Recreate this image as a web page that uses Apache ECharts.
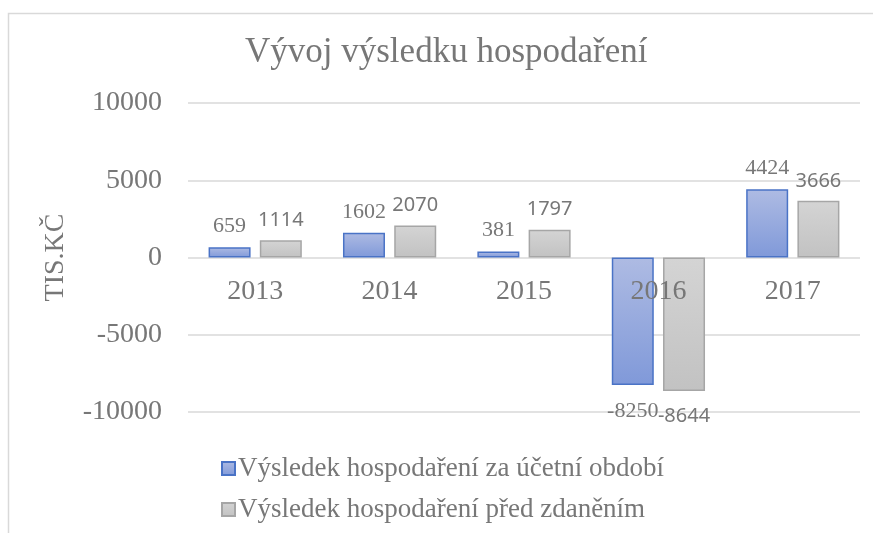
<!DOCTYPE html>
<html>
<head>
<meta charset="utf-8">
<script src="https://cdn.jsdelivr.net/npm/echarts@6/dist/echarts.min.js"></script>
<style>
  html, body { margin: 0; padding: 0; background: #fff; }
  #chart { width: 873px; height: 533px; }
</style>
</head>
<body>
<div id="chart"></div>
<script>
var years = ['2013', '2014', '2015', '2016', '2017'];
var zaObdobi = [659, 1602, 381, -8250, 4424];
var predZdanenim = [1114, 2070, 1797, -8644, 3666];
var seriesNames = ['Výsledek hospodaření za účetní období', 'Výsledek hospodaření před zdaněním'];

var serif = 'Liberation Serif';
var sans = 'Noto Sans';
var txt = '#777777';

var chart = echarts.init(document.getElementById('chart'));

function labelFor(font, size, dist) {
    return {
        show: true,
        position: 'top',
        distance: dist,
        fontFamily: font,
        fontSize: size,
        color: txt,
        formatter: function (p) { return String(p.value); }
    };
}

function negLabel(font, size, dist) {
    // labels under the bars that go below zero
    return { position: 'bottom', distance: dist, fontFamily: font, fontSize: size, color: txt };
}

var option = {
    backgroundColor: '#fff',
    animation: false,
    textStyle: { fontFamily: serif },
    title: {
        text: 'Vývoj výsledku hospodaření',
        left: 240,
        top: 30,
        textStyle: { fontFamily: serif, fontSize: 35, fontWeight: 'normal', color: '#777777' }
    },
    graphic: [{
        type: 'rect',
        shape: { x: 8.5, y: 13.5, width: 900, height: 600 },
        style: { fill: 'none', stroke: '#d9d9d9', lineWidth: 1.5 },
        silent: true
    }],
    grid: { left: 188, right: 13, top: 103, bottom: 121 },
    legend: {
        orient: 'vertical',
        left: 216,
        top: 450,
        itemGap: 14,
        itemWidth: 13,
        itemHeight: 13,
        icon: 'rect',
        data: seriesNames,
        textStyle: { fontFamily: serif, fontSize: 27, color: txt, padding: [0, 0, 0, -2] }
    },
    xAxis: {
        type: 'category',
        data: years,
        offset: -154,
        z: 10,
        axisLine: { show: false, onZero: false },
        axisTick: { show: false },
        axisLabel: { fontFamily: serif, fontSize: 28, color: txt, margin: 20 }
    },
    yAxis: {
        type: 'value',
        min: -10000,
        max: 10000,
        interval: 5000,
        name: 'TIS.KČ',
        nameLocation: 'middle',
        nameGap: 118,
        nameRotate: 90,
        nameTextStyle: { fontFamily: serif, fontSize: 28, color: txt },
        axisLine: { show: false },
        axisTick: { show: false },
        axisLabel: {
            fontFamily: serif, fontSize: 28, color: txt, margin: 26,
            formatter: function (v) { return String(v); }
        },
        splitLine: { lineStyle: { color: '#d9d9d9', width: 1.5 } }
    },
    series: [{
        name: seriesNames[0],
        type: 'bar',
        barWidth: 42,
        barGap: '22%',
        itemStyle: {
            color: new echarts.graphic.LinearGradient(0, 0, 0, 1, [
                { offset: 0, color: '#aebbe3' },
                { offset: 1, color: '#8099d9' }
            ]),
            borderColor: '#4a73c6',
            borderWidth: 1.5
        },
        label: labelFor(serif, 22, 10),
        data: zaObdobi.map(function (v) {
            return v < 0 ? { value: v, label: negLabel(serif, 22, 15) } : v;
        })
    }, {
        name: seriesNames[1],
        type: 'bar',
        barWidth: 42,
        itemStyle: {
            color: new echarts.graphic.LinearGradient(0, 0, 0, 1, [
                { offset: 0, color: '#d4d4d4' },
                { offset: 1, color: '#c2c2c2' }
            ]),
            borderColor: '#a6a6a6',
            borderWidth: 1.5
        },
        label: labelFor(sans, 20, 10),
        data: predZdanenim.map(function (v) {
            return v < 0 ? { value: v, label: negLabel(sans, 20, 15) } : v;
        })
    }]
};

chart.setOption(option);
</script>
</body>
</html>
